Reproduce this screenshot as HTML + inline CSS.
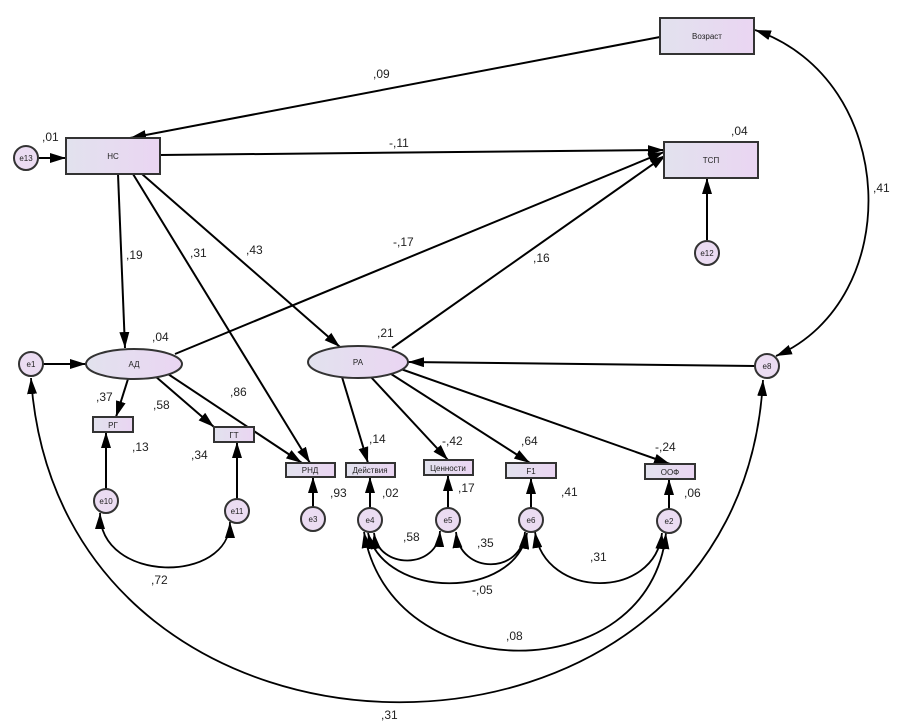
<!DOCTYPE html>
<html><head><meta charset="utf-8"><style>
body{margin:0;background:#fff;}
svg{display:block;font-family:"Liberation Sans",sans-serif;}
.l{font-size:12px;fill:#222;}
.n{font-size:8px;fill:#222;text-anchor:middle;}
</style></head><body>
<svg width="904" height="723" viewBox="0 0 904 723">
<defs>
<linearGradient id="g" x1="0" x2="1" y1="0" y2="0"><stop offset="0" stop-color="#e2e2ee"/><stop offset="1" stop-color="#ead5f2"/></linearGradient>
<marker id="b" viewBox="0 0 16 10" refX="16" refY="5" markerWidth="16" markerHeight="10" orient="auto-start-reverse" markerUnits="userSpaceOnUse"><path d="M0,0 L16,5 L0,10 z" fill="#000"/></marker>
</defs>
<g stroke="#000" stroke-width="2" fill="none">
<line x1="660" y1="37" x2="130" y2="138" marker-end="url(#b)"/>
<line x1="160" y1="155" x2="664" y2="150" marker-end="url(#b)"/>
<line x1="39" y1="158" x2="66" y2="158" marker-end="url(#b)"/>
<line x1="707" y1="240" x2="707" y2="178" marker-end="url(#b)"/>
<line x1="118" y1="174" x2="125" y2="348" marker-end="url(#b)"/>
<line x1="133" y1="174" x2="310" y2="463" marker-end="url(#b)"/>
<line x1="142" y1="174" x2="340" y2="347" marker-end="url(#b)"/>
<line x1="175" y1="354" x2="664" y2="152" marker-end="url(#b)"/>
<line x1="392" y1="348" x2="666" y2="155" marker-end="url(#b)"/>
<line x1="43" y1="364" x2="86" y2="364" marker-end="url(#b)"/>
<line x1="755" y1="366" x2="408" y2="362" marker-end="url(#b)"/>
<line x1="128" y1="379" x2="116" y2="417" marker-end="url(#b)"/>
<line x1="155" y1="376" x2="214" y2="427" marker-end="url(#b)"/>
<line x1="168" y1="374" x2="302" y2="463" marker-end="url(#b)"/>
<line x1="342" y1="377" x2="368" y2="463" marker-end="url(#b)"/>
<line x1="370" y1="376" x2="448" y2="460" marker-end="url(#b)"/>
<line x1="388" y1="372" x2="530" y2="463" marker-end="url(#b)"/>
<line x1="398" y1="368" x2="670" y2="464" marker-end="url(#b)"/>
<line x1="106" y1="489" x2="106" y2="432" marker-end="url(#b)"/>
<line x1="237" y1="499" x2="237" y2="442" marker-end="url(#b)"/>
<line x1="313" y1="507" x2="313" y2="477" marker-end="url(#b)"/>
<line x1="370" y1="508" x2="370" y2="477" marker-end="url(#b)"/>
<line x1="448" y1="508" x2="448" y2="475" marker-end="url(#b)"/>
<line x1="531" y1="508" x2="531" y2="478" marker-end="url(#b)"/>
<line x1="669" y1="509" x2="669" y2="479" marker-end="url(#b)"/>
<path d="M755,30 C900,80 905,300 776,356" stroke-width="1.8" marker-start="url(#b)" marker-end="url(#b)"/>
<path d="M31,378 C60,810 740,810 763,380" stroke-width="1.8" marker-start="url(#b)" marker-end="url(#b)"/>
<path d="M100,513 C100,584 230,584 230,522" stroke-width="1.8" marker-start="url(#b)" marker-end="url(#b)"/>
<path d="M374,533 C378,570 438,570 440,531" stroke-width="1.8" marker-start="url(#b)" marker-end="url(#b)"/>
<path d="M456,532 C460,575 522,575 525,532" stroke-width="1.8" marker-start="url(#b)" marker-end="url(#b)"/>
<path d="M535,532 C545,600 655,600 662,533" stroke-width="1.8" marker-start="url(#b)" marker-end="url(#b)"/>
<path d="M368,533 C385,600 515,600 527,533" stroke-width="1.8" marker-start="url(#b)" marker-end="url(#b)"/>
<path d="M364,532 C390,690 650,690 666,533" stroke-width="1.8" marker-start="url(#b)" marker-end="url(#b)"/>
</g>
<g stroke="#333" stroke-width="2" fill="url(#g)">
<rect x="660" y="18" width="94" height="36"/>
<rect x="66" y="138" width="94" height="36"/>
<rect x="664" y="142" width="94" height="36"/>
<rect x="93" y="417" width="40" height="15"/>
<rect x="214" y="427" width="40" height="15"/>
<rect x="286" y="463" width="49" height="14"/>
<rect x="346" y="463" width="49" height="14"/>
<rect x="424" y="460" width="49" height="15"/>
<rect x="506" y="463" width="50" height="15"/>
<rect x="645" y="464" width="50" height="15"/>
<ellipse cx="134" cy="364" rx="48" ry="15"/>
<ellipse cx="358" cy="362" rx="50" ry="16"/>
</g>
<g stroke="#333" stroke-width="2" fill="#ebdcf2">
<circle cx="26" cy="158" r="12"/><circle cx="707" cy="253" r="12"/>
<circle cx="31" cy="364" r="12"/><circle cx="767" cy="366" r="12"/>
<circle cx="106" cy="501" r="12"/><circle cx="237" cy="511" r="12"/>
<circle cx="313" cy="519" r="12"/><circle cx="370" cy="520" r="12"/>
<circle cx="448" cy="520" r="12"/><circle cx="531" cy="520" r="12"/>
<circle cx="669" cy="521" r="12"/>
</g>
<g class="n">
<text x="707" y="39">Возраст</text><text x="113" y="159">НС</text><text x="711" y="163">ТСП</text>
<text x="134" y="367">АД</text><text x="358" y="365">РА</text>
<text x="113" y="428">РГ</text><text x="234" y="438">ГТ</text><text x="310" y="473">РНД</text>
<text x="370" y="473">Действия</text><text x="448" y="471">Ценности</text><text x="531" y="474">F1</text><text x="670" y="475">ООФ</text>
<text x="26" y="161">e13</text><text x="707" y="256">e12</text><text x="31" y="367">e1</text><text x="767" y="369">e8</text>
<text x="106" y="504">e10</text><text x="237" y="514">e11</text><text x="313" y="522">e3</text><text x="370" y="523">e4</text>
<text x="448" y="523">e5</text><text x="531" y="523">e6</text><text x="669" y="524">e2</text>
</g>
<g class="l">
<text x="373" y="78">,09</text><text x="389" y="147">-,11</text><text x="42" y="141">,01</text><text x="731" y="135">,04</text>
<text x="873" y="192">,41</text><text x="126" y="259">,19</text><text x="190" y="257">,31</text><text x="246" y="254">,43</text>
<text x="393" y="246">-,17</text><text x="533" y="262">,16</text><text x="152" y="341">,04</text><text x="377" y="337">,21</text>
<text x="96" y="401">,37</text><text x="153" y="409">,58</text><text x="230" y="396">,86</text><text x="132" y="451">,13</text>
<text x="191" y="459">,34</text><text x="369" y="443">,14</text><text x="442" y="445">-,42</text><text x="521" y="445">,64</text>
<text x="655" y="451">-,24</text><text x="330" y="497">,93</text><text x="382" y="497">,02</text><text x="458" y="492">,17</text>
<text x="561" y="496">,41</text><text x="684" y="497">,06</text>
<text x="151" y="584">,72</text><text x="403" y="541">,58</text><text x="477" y="547">,35</text><text x="590" y="561">,31</text>
<text x="472" y="594">-,05</text><text x="506" y="640">,08</text><text x="381" y="719">,31</text>
</g>
</svg>
</body></html>
